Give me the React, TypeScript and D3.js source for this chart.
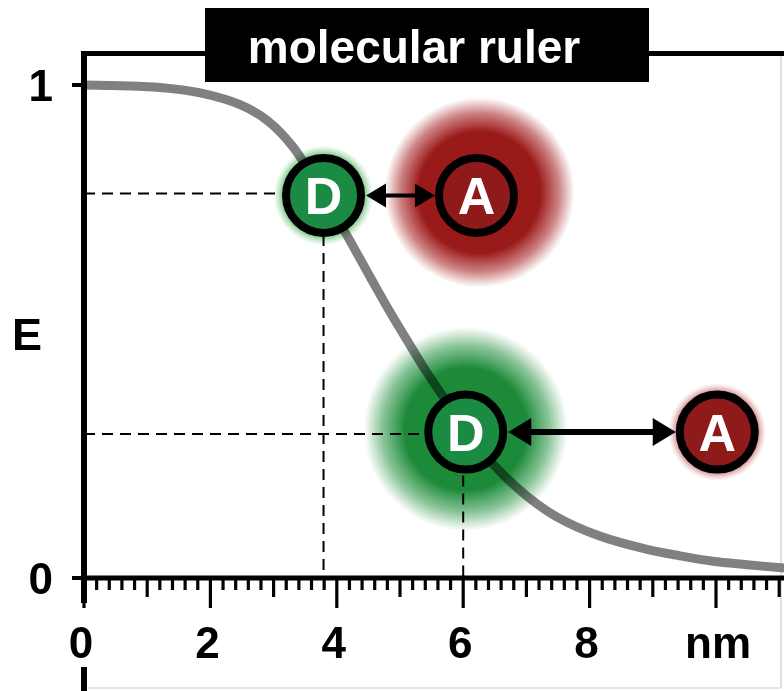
import React from 'react';
import * as d3 from 'd3';

// FRET efficiency curve (distance in nm, E)
const curveNm = [0, 1.2, 1.84, 2.47, 2.9, 3.31, 3.77, 4.16, 4.53, 4.84, 5.16, 5.43, 5.75, 6.04, 6.63, 7.01, 7.48, 8.16, 8.91, 9.43, 9.95, 10.49, 11.08];
const curveE = [1.0, 0.995, 0.984, 0.96, 0.928, 0.874, 0.78, 0.695, 0.61, 0.54, 0.472, 0.416, 0.355, 0.296, 0.21, 0.166, 0.124, 0.085, 0.058, 0.045, 0.034, 0.027, 0.02];

// donor / acceptor pairs
const donorNm = [3.79, 6.04];
const pairE = [0.776, 0.296];
const acceptorNm = [6.21, 10.02];
const donorBigGlow = [false, true];

// dashed guides
const guideNm = [3.79, 6.0];
const guideE = [0.78, 0.292];

const xTickLabels = ['0', '2', '4', '6', '8', 'nm'];
const xTickValues = [0, 2, 4, 6, 8, 10];
const yTickValues = [0, 1];
const title = 'molecular ruler';

const FONT = "'Liberation Sans', Arial, Helvetica, sans-serif";
const GREEN = '#1b8a43';
const RED = '#8f1a1a';

const App: React.FC = () => {
  const width = 784;
  const height = 691;

  const x = d3.scaleLinear().domain([0, 10]).range([84, 716]);
  const y = d3.scaleLinear().domain([0, 1]).range([578, 85]);

  const pts = curveNm.map((d, i) => [d, curveE[i]] as [number, number]);
  const line = d3
    .line<[number, number]>()
    .x((d) => x(d[0]))
    .y((d) => y(d[1]))
    .curve(d3.curveCatmullRom.alpha(0.5));

  const minor = d3.range(0, 56).map((i) => +(i * 0.2).toFixed(1));
  const R = 37.5; // circle radius (stroke centre)
  const outer = 41.5;

  const arrow = (x1: number, x2: number, yy: number, headL: number, headH: number, w: number, key: string) => (
    <g key={key}>
      <line x1={x1 + headL - 2} x2={x2 - headL + 2} y1={yy} y2={yy} stroke="#000" strokeWidth={w} />
      <path d={`M${x1},${yy} L${x1 + headL},${yy - headH} L${x1 + headL},${yy + headH} Z`} fill="#000" />
      <path d={`M${x2},${yy} L${x2 - headL},${yy - headH} L${x2 - headL},${yy + headH} Z`} fill="#000" />
    </g>
  );

  return (
    <div style={{ position: 'absolute', left: 0, top: 0 }}>
      <svg width={width} height={height} style={{ display: 'block', background: '#fff' }}>
        <defs>
          <radialGradient id="bigRed">
            <stop offset="0%" stopColor="#9a1a1a" stopOpacity={1} />
            <stop offset="64%" stopColor="#9a1a1a" stopOpacity={1} />
            <stop offset="84%" stopColor="#a52020" stopOpacity={0.55} />
            <stop offset="100%" stopColor="#b02a2a" stopOpacity={0} />
          </radialGradient>
          <radialGradient id="bigGreen">
            <stop offset="0%" stopColor="#1d8a3a" stopOpacity={1} />
            <stop offset="60%" stopColor="#1d8a3a" stopOpacity={1} />
            <stop offset="82%" stopColor="#2a9444" stopOpacity={0.55} />
            <stop offset="100%" stopColor="#3a9c50" stopOpacity={0} />
          </radialGradient>
          <radialGradient id="smallGreen">
            <stop offset="0%" stopColor="#4caf60" stopOpacity={1} />
            <stop offset="80%" stopColor="#4caf60" stopOpacity={0.8} />
            <stop offset="100%" stopColor="#8fd69a" stopOpacity={0} />
          </radialGradient>
          <radialGradient id="smallRed">
            <stop offset="0%" stopColor="#c05050" stopOpacity={1} />
            <stop offset="82%" stopColor="#c05050" stopOpacity={0.7} />
            <stop offset="100%" stopColor="#e0a0a0" stopOpacity={0} />
          </radialGradient>
        </defs>

        {/* faint outer border */}
        <line x1={781} x2={781} y1={56} y2={688} stroke="#d4d4d4" strokeWidth={1.5} />
        <line x1={84} x2={781} y1={688} y2={688} stroke="#dcdcdc" strokeWidth={1.5} />

        {/* top frame */}
        <line x1={81} x2={784} y1={53.5} y2={53.5} stroke="#000" strokeWidth={5} />

        {/* curve */}
        <path d={line(pts) || ''} fill="none" stroke="#808080" strokeWidth={9} />

        {/* dashed guides */}
        {guideNm.map((d, i) => (
          <g key={`g${i}`} stroke="#000" strokeWidth={2} strokeDasharray="11,7">
            <line x1={x(0)} x2={x(d) - outer} y1={y(guideE[i])} y2={y(guideE[i])} />
            <line x1={x(d)} x2={x(d)} y1={y(guideE[i]) + outer} y2={y(0)} />
          </g>
        ))}

        {/* glows */}
        {donorNm.map((d, i) => (
          <g key={`glow${i}`} style={{ mixBlendMode: 'multiply' }}>
            {donorBigGlow[i] ? (
              <>
                <circle cx={x(d)} cy={y(pairE[i]) - 3} r={102} fill="url(#bigGreen)" />
                <circle cx={x(acceptorNm[i])} cy={y(pairE[i])} r={49} fill="url(#smallRed)" />
              </>
            ) : (
              <>
                <circle cx={x(acceptorNm[i]) + 3} cy={y(pairE[i]) - 3} r={95} fill="url(#bigRed)" />
                <circle cx={x(d)} cy={y(pairE[i])} r={50} fill="url(#smallGreen)" />
              </>
            )}
          </g>
        ))}

        {/* arrows */}
        {donorNm.map((d, i) =>
          i === 0
            ? arrow(x(d) + outer + 1, x(acceptorNm[i]) - outer, y(pairE[i]), 20, 12, 4, `a${i}`)
            : arrow(x(d) + outer + 1, x(acceptorNm[i]) - outer, y(pairE[i]), 23, 14, 6, `a${i}`)
        )}

        {/* donor / acceptor circles */}
        {donorNm.map((d, i) => (
          <g key={`c${i}`}>
            <circle cx={x(d)} cy={y(pairE[i])} r={R} fill={GREEN} stroke="#000" strokeWidth={8} />
            <text x={x(d)} y={y(pairE[i]) + 18.5} textAnchor="middle" fill="#fff" fontFamily={FONT} fontWeight="bold" fontSize={52}>
              D
            </text>
            <circle cx={x(acceptorNm[i])} cy={y(pairE[i])} r={R} fill={RED} stroke="#000" strokeWidth={8} />
            <text x={x(acceptorNm[i])} y={y(pairE[i]) + 18.5} textAnchor="middle" fill="#fff" fontFamily={FONT} fontWeight="bold" fontSize={52}>
              A
            </text>
          </g>
        ))}

        {/* x axis */}
        <line x1={81} x2={784} y1={y(0)} y2={y(0)} stroke="#000" strokeWidth={5} />
        {minor.map((t) => {
          const isMajor = Math.abs(t % 2) < 1e-6 || Math.abs((t % 2) - 2) < 1e-6;
          const isMid = !isMajor && (Math.abs(t % 1) < 1e-6 || Math.abs((t % 1) - 1) < 1e-6);
          const len = isMajor ? 30 : isMid ? 19 : 12;
          return <line key={`t${t}`} x1={x(t)} x2={x(t)} y1={y(0)} y2={y(0) + len} stroke="#000" strokeWidth={3.2} />;
        })}
        {xTickValues.map((t, i) => (
          <text key={`xl${i}`} x={x(t) - (i === 5 ? -2 : 3)} y={658} textAnchor="middle" fontFamily={FONT} fontWeight="bold" fontSize={44} fill="#000">
            {xTickLabels[i]}
          </text>
        ))}

        {/* y axis */}
        <line x1={84} x2={84} y1={51} y2={603} stroke="#000" strokeWidth={6} />
        <line x1={84} x2={84} y1={667} y2={691} stroke="#000" strokeWidth={6} />
        {yTickValues.map((t) => (
          <g key={`y${t}`}>
            <line x1={72} x2={84} y1={y(t)} y2={y(t)} stroke="#000" strokeWidth={4} />
            <text x={53} y={y(t) + 16} textAnchor="end" fontFamily={FONT} fontWeight="bold" fontSize={44} fill="#000">
              {t}
            </text>
          </g>
        ))}
        <text x={12} y={350} fontFamily={FONT} fontWeight="bold" fontSize={45} fill="#000">
          E
        </text>

        {/* title box */}
        <rect x={205} y={8} width={444} height={74} fill="#000" />
        <text x={414} y={63} textAnchor="middle" fill="#fff" fontFamily={FONT} fontWeight="bold" fontSize={46}>
          {title}
        </text>
      </svg>
    </div>
  );
};

export default App;
